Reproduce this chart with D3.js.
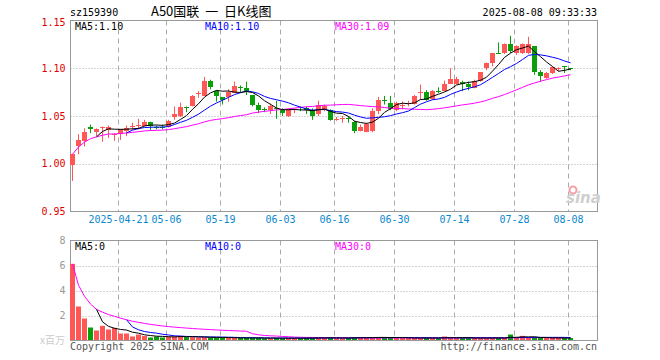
<!DOCTYPE html>
<html>
<head>
<meta charset="utf-8">
<script src="https://cdn.jsdelivr.net/npm/d3@7"></script>
<style>
body { margin: 0; background: #fff; }
text { font-family: "DejaVu Sans Mono", monospace; font-size: 10px; }
</style>
</head>
<body>
<div id="chart"></div>
<script>
// 交易日
var dates = [
	"2025-04-09", "2025-04-10", "2025-04-11", "2025-04-14", "2025-04-15", "2025-04-16", "2025-04-17", "2025-04-18",
	"2025-04-21", "2025-04-22", "2025-04-23", "2025-04-24", "2025-04-25", "2025-04-28", "2025-04-29", "2025-04-30",
	"2025-05-06", "2025-05-07", "2025-05-08", "2025-05-09", "2025-05-12", "2025-05-13", "2025-05-14", "2025-05-15",
	"2025-05-16", "2025-05-19", "2025-05-20", "2025-05-21", "2025-05-22", "2025-05-23", "2025-05-26", "2025-05-27",
	"2025-05-28", "2025-05-29", "2025-05-30", "2025-06-03", "2025-06-04", "2025-06-05", "2025-06-06", "2025-06-09",
	"2025-06-10", "2025-06-11", "2025-06-12", "2025-06-13", "2025-06-16", "2025-06-17", "2025-06-18", "2025-06-19",
	"2025-06-20", "2025-06-23", "2025-06-24", "2025-06-25", "2025-06-26", "2025-06-27", "2025-06-30", "2025-07-01",
	"2025-07-02", "2025-07-03", "2025-07-04", "2025-07-07", "2025-07-08", "2025-07-09", "2025-07-10", "2025-07-11",
	"2025-07-14", "2025-07-15", "2025-07-16", "2025-07-17", "2025-07-18", "2025-07-21", "2025-07-22", "2025-07-23",
	"2025-07-24", "2025-07-25", "2025-07-28", "2025-07-29", "2025-07-30", "2025-07-31", "2025-08-01", "2025-08-04",
	"2025-08-05", "2025-08-06", "2025-08-07", "2025-08-08"
];
var open = [
	0.998, 1.019, 1.024, 1.039, 1.033, 1.037, 1.036, 1.030, 1.031, 1.034, 1.039, 1.040, 1.040, 1.044, 1.039, 1.039,
	1.039, 1.049, 1.050, 1.059, 1.061, 1.073, 1.071, 1.087, 1.076, 1.070, 1.070, 1.074, 1.080, 1.079, 1.072, 1.062,
	1.057, 1.056, 1.058, 1.056, 1.050, 1.056, 1.059, 1.058, 1.056, 1.053, 1.057, 1.056, 1.046, 1.047, 1.048, 1.044,
	1.035, 1.034, 1.034, 1.055, 1.067, 1.064, 1.057, 1.061, 1.063, 1.063, 1.074, 1.075, 1.068, 1.076, 1.076, 1.084,
	1.084, 1.086, 1.084, 1.080, 1.087, 1.100, 1.106, 1.116, 1.116, 1.125, 1.116, 1.116, 1.116, 1.123, 1.096, 1.090,
	1.095, 1.100, 1.102, 1.100
];
var high = [
	1.010, 1.031, 1.037, 1.041, 1.037, 1.039, 1.040, 1.032, 1.036, 1.040, 1.043, 1.047, 1.046, 1.044, 1.040, 1.041,
	1.046, 1.060, 1.064, 1.060, 1.072, 1.076, 1.091, 1.088, 1.077, 1.070, 1.078, 1.086, 1.082, 1.086, 1.072, 1.064,
	1.059, 1.063, 1.066, 1.058, 1.058, 1.058, 1.060, 1.060, 1.058, 1.066, 1.062, 1.057, 1.049, 1.050, 1.050, 1.045,
	1.041, 1.043, 1.058, 1.070, 1.071, 1.071, 1.065, 1.065, 1.066, 1.072, 1.083, 1.077, 1.077, 1.080, 1.087, 1.100,
	1.091, 1.087, 1.086, 1.088, 1.096, 1.106, 1.116, 1.127, 1.126, 1.134, 1.124, 1.126, 1.133, 1.123, 1.098, 1.096,
	1.102, 1.101, 1.102, 1.100
];
var low = [
	0.982, 1.010, 1.018, 1.032, 1.029, 1.023, 1.027, 1.024, 1.025, 1.029, 1.036, 1.036, 1.039, 1.035, 1.036, 1.036,
	1.038, 1.046, 1.049, 1.054, 1.060, 1.069, 1.071, 1.078, 1.065, 1.062, 1.065, 1.074, 1.075, 1.072, 1.060, 1.053,
	1.054, 1.052, 1.047, 1.050, 1.049, 1.053, 1.055, 1.052, 1.046, 1.050, 1.055, 1.045, 1.045, 1.043, 1.043, 1.032,
	1.034, 1.033, 1.033, 1.052, 1.062, 1.056, 1.055, 1.057, 1.060, 1.062, 1.067, 1.066, 1.067, 1.074, 1.076, 1.084,
	1.083, 1.076, 1.077, 1.079, 1.086, 1.098, 1.102, 1.115, 1.115, 1.116, 1.114, 1.115, 1.115, 1.093, 1.086, 1.089,
	1.094, 1.097, 1.095, 1.098
];
var close = [
	1.010, 1.025, 1.033, 1.037, 1.036, 1.038, 1.039, 1.031, 1.036, 1.037, 1.040, 1.041, 1.044, 1.040, 1.038, 1.038,
	1.045, 1.052, 1.059, 1.058, 1.071, 1.074, 1.087, 1.081, 1.071, 1.067, 1.075, 1.081, 1.079, 1.076, 1.062, 1.057,
	1.056, 1.060, 1.057, 1.053, 1.057, 1.057, 1.058, 1.056, 1.050, 1.062, 1.060, 1.046, 1.047, 1.048, 1.047, 1.035,
	1.039, 1.042, 1.055, 1.067, 1.066, 1.058, 1.064, 1.062, 1.064, 1.071, 1.075, 1.067, 1.076, 1.075, 1.083, 1.089,
	1.089, 1.084, 1.081, 1.087, 1.096, 1.105, 1.116, 1.115, 1.125, 1.118, 1.123, 1.125, 1.125, 1.096, 1.092, 1.095,
	1.101, 1.100, 1.101, 1.099
];
// 成交量 (百万)
var volume = [
	6.13, 2.72, 1.76, 1.04, 0.80, 1.17, 0.88, 1.01, 0.56, 0.56, 0.32, 0.48, 0.37, 0.24, 0.32, 0.24,
	0.32, 0.32, 0.37, 0.27, 0.27, 0.24, 0.27, 0.24, 0.24, 0.21, 0.21, 0.21, 0.20, 0.20, 0.20, 0.20,
	0.18, 0.18, 0.20, 0.18, 0.20, 0.18, 0.18, 0.20, 0.22, 0.24, 0.20, 0.22, 0.18, 0.18, 0.20, 0.27,
	0.27, 0.20, 0.22, 0.27, 0.27, 0.22, 0.20, 0.20, 0.20, 0.20, 0.20, 0.20, 0.20, 0.18, 0.32, 0.22,
	0.20, 0.20, 0.20, 0.20, 0.20, 0.20, 0.20, 0.20, 0.20, 0.48, 0.20, 0.37, 0.20, 0.24, 0.20, 0.20,
	0.20, 0.20, 0.20, 0.20
];

var priceTicks = [0.95, 1.00, 1.05, 1.10, 1.15];
var volTicks = [2, 4, 6, 8];
var xTickDates = ["2025-04-21", "2025-05-06", "2025-05-19", "2025-06-03", "2025-06-16", "2025-06-30", "2025-07-14", "2025-07-28", "2025-08-08"];
var xTickLabels = ["2025-04-21", "05-06", "05-19", "06-03", "06-16", "06-30", "07-14", "07-28", "08-08"];
var maLabels = ["MA5:1.10", "MA10:1.10", "MA30:1.09"];
var volMaLabels = ["MA5:0", "MA10:0", "MA30:0"];
var titleCode = "sz159390";
var titleName = "A50国联  一  日K线图";
var stamp = "2025-08-08 09:33:33";

var width = 660, height = 360;
var left = 70.5, right = 597.5;
var top1 = 20.5, bot1 = 211.5, top2 = 240.5, bot2 = 340.5;
var red = "#ff5656", green = "#0a9e0a";
var maColors = ["#000", "#0000ff", "#ff00ff"];

// 均线 (MA30 在不足30天时取已有数据平均)
function ma(arr, n, expand) {
	var out = [];
	for (var i = 0; i < arr.length; i++) {
		if (i < n - 1 && !expand) { out.push(null); continue; }
		var s = 0, k = Math.max(0, i - n + 1);
		for (var j = k; j <= i; j++) s += arr[j];
		out.push(s / (i - k + 1));
	}
	return out;
}

var svg = d3.select("#chart").append("svg")
	.attr("width", width)
	.attr("height", height);

var x = d3.scaleLinear().domain([0, dates.length - 1]).range([72, 72 + 6 * (dates.length - 1)]);
var y = d3.scaleLinear().domain([0.95, 1.15]).range([bot1, top1]);
var yv = d3.scaleLinear().domain([0, 8]).range([bot2, top2]);

function gx(d) { return Math.round(x(dates.indexOf(d))) - 1.5; }

// 网格
function grid(yScale, ticks, t, b) {
	svg.append("g").selectAll("line").data(ticks).join("line")
		.attr("x1", left).attr("x2", right)
		.attr("y1", d => Math.round(yScale(d)) + 0.5)
		.attr("y2", d => Math.round(yScale(d)) + 0.5)
		.attr("stroke", "#aaa").attr("stroke-dasharray", "1,2");
	svg.append("g").selectAll("line").data(xTickDates).join("line")
		.attr("x1", gx).attr("x2", gx)
		.attr("y1", t).attr("y2", b)
		.attr("stroke", "#aaa").attr("stroke-dasharray", "5,4");
	svg.append("rect")
		.attr("x", left).attr("y", t)
		.attr("width", right - left).attr("height", b - t)
		.attr("fill", "none").attr("stroke", "#999");
}
grid(y, [1.00, 1.05, 1.10], top1, bot1);
grid(yv, [2, 4, 6], top2, bot2);

// 纵轴
svg.append("g")
	.attr("transform", `translate(${left},0)`)
	.call(d3.axisLeft(y).tickValues(priceTicks).tickFormat(d3.format(".2f")).tickSize(0).tickPadding(5))
	.call(g => g.select(".domain").remove())
	.call(g => g.selectAll("text").attr("fill", "#e00000").style("font-size", "10px").style("font-family", "DejaVu Sans Mono"))
	.call(g => g.selectAll(".tick").filter(d => d == 1.15).attr("transform", `translate(0,${y(1.15) + 2})`));

svg.append("g")
	.attr("transform", `translate(${left},0)`)
	.call(d3.axisLeft(yv).tickValues(volTicks).tickFormat(d3.format("d")).tickSize(0).tickPadding(5))
	.call(g => g.select(".domain").remove())
	.call(g => g.selectAll("text").attr("fill", "#999").style("font-size", "10px").style("font-family", "DejaVu Sans Mono"));

svg.append("text")
	.attr("x", 65).attr("y", 344)
	.attr("text-anchor", "end")
	.attr("fill", "#ccc")
	.style("font-family", "Noto Sans CJK SC")
	.text("x百万");

// 横轴
svg.append("g")
	.attr("transform", `translate(0,${bot1})`)
	.call(d3.axisBottom(x)
		.tickValues(xTickDates.map(d => dates.indexOf(d)))
		.tickFormat((d, i) => xTickLabels[i])
		.tickSize(0).tickPadding(4))
	.call(g => g.select(".domain").remove())
	.call(g => g.selectAll(".tick").attr("transform", d => `translate(${Math.round(x(d)) - 1.5},0)`))
	.call(g => g.selectAll("text").attr("fill", "#0a88d0").style("font-size", "10px").style("font-family", "DejaVu Sans Mono"));

// K线
var idx = d3.range(dates.length);
var candle = svg.append("g").selectAll("g").data(idx).join("g");
candle.append("line")
	.attr("x1", i => Math.round(x(i)) + 0.5)
	.attr("x2", i => Math.round(x(i)) + 0.5)
	.attr("y1", i => y(high[i]))
	.attr("y2", i => y(low[i]))
	.attr("stroke", i => close[i] >= open[i] ? red : green);
candle.append("rect")
	.attr("x", i => Math.round(x(i)) - 2)
	.attr("width", 5)
	.attr("y", i => Math.round(y(Math.max(open[i], close[i]))))
	.attr("height", i => Math.max(1, Math.round(Math.abs(y(open[i]) - y(close[i])))))
	.attr("fill", i => close[i] >= open[i] ? red : green);

// 成交量
svg.append("g").selectAll("rect").data(idx).join("rect")
	.attr("x", i => Math.round(x(i)) - 2)
	.attr("width", 5)
	.attr("y", i => yv(volume[i]))
	.attr("height", i => bot2 - 0.5 - yv(volume[i]))
	.attr("fill", i => close[i] >= open[i] ? red : green);

// 均线
function drawMa(vals, yScale, color) {
	var line = d3.line()
		.defined(d => d != null)
		.x((d, i) => x(i) + 0.5)
		.y(d => yScale(d));
	svg.append("path")
		.datum(vals)
		.attr("fill", "none")
		.attr("stroke", color)
		.attr("stroke-width", 1)
		.attr("d", line);
}
drawMa(ma(close, 30, true), y, maColors[2]);
drawMa(ma(close, 10, false), y, maColors[1]);
drawMa(ma(close, 5, false), y, maColors[0]);
drawMa(ma(volume, 30, true), yv, maColors[2]);
drawMa(ma(volume, 10, false), yv, maColors[1]);
drawMa(ma(volume, 5, false), yv, maColors[0]);

// 图例
var legX = [75, 205, 335];
svg.append("g").selectAll("text").data(maLabels).join("text")
	.attr("x", (d, i) => legX[i]).attr("y", 30)
	.attr("fill", (d, i) => maColors[i])
	.text(d => d);
svg.append("g").selectAll("text").data(volMaLabels).join("text")
	.attr("x", (d, i) => legX[i]).attr("y", 250)
	.attr("fill", (d, i) => maColors[i])
	.text(d => d);

// 标题
svg.append("text").attr("x", 70).attr("y", 16).attr("fill", "#000").text(titleCode);
svg.append("text")
	.attr("x", 151).attr("y", 16)
	.attr("fill", "#000")
	.attr("xml:space", "preserve")
	.style("font-family", "Noto Sans CJK SC")
	.style("font-size", "13px")
	.style("white-space", "pre")
	.text(titleName);
svg.append("text").attr("x", 597).attr("y", 16).attr("text-anchor", "end").attr("fill", "#000").text(stamp);

// 底部
svg.append("text").attr("x", 70).attr("y", 350).attr("fill", "#555").text("Copyright 2025 SINA.COM");
svg.append("text").attr("x", 597).attr("y", 350).attr("text-anchor", "end").attr("fill", "#555").text("http://finance.sina.com.cn");

// 水印
var logo = svg.append("g").attr("transform", "translate(566,186)");
logo.append("circle").attr("cx", 7).attr("cy", 4).attr("r", 3.5).attr("fill", "none").attr("stroke", "#f3a0a8").attr("stroke-width", 2);
logo.append("text").attr("x", 0).attr("y", 17)
	.attr("fill", "#cfcfcf")
	.style("font-family", "DejaVu Sans")
	.style("font-style", "italic")
	.style("font-weight", "bold")
	.style("font-size", "15px")
	.text("sina");
</script>
</body>
</html>
